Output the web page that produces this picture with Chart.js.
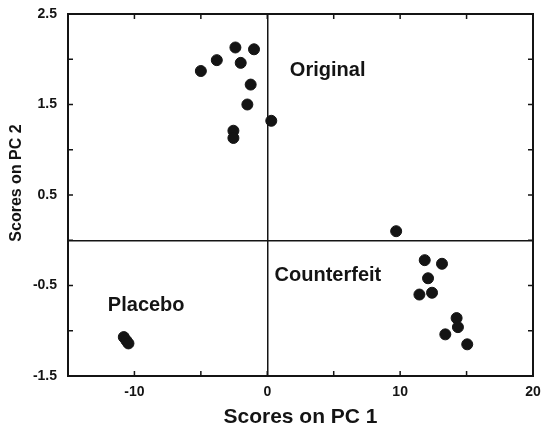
<!DOCTYPE html>
<html>
<head>
<meta charset="utf-8">
<script src="https://cdn.jsdelivr.net/npm/chart.js"></script>
<style>
    html, body { margin: 0; padding: 0; background: #fff; }
    #wrap { width: 545px; height: 431px; }
</style>
</head>
<body>
<div id="wrap"><canvas id="scores"></canvas></div>
<script>
// PCA scores
const originalX = [-5.0, -3.8, -2.4, -1.0, -2.0, -1.25, -1.5, -2.55, -2.55, 0.3];
const originalY = [1.87, 1.99, 2.13, 2.11, 1.96, 1.72, 1.50, 1.21, 1.13, 1.32];
const counterfeitX = [9.7, 11.85, 13.15, 12.1, 11.45, 12.4, 14.25, 14.35, 13.4, 15.05];
const counterfeitY = [0.10, -0.22, -0.26, -0.42, -0.60, -0.58, -0.86, -0.96, -1.04, -1.15];
const placeboX = [-10.8, -10.6, -10.45];
const placeboY = [-1.07, -1.11, -1.14];

const groupNames = ['Original', 'Counterfeit', 'Placebo'];
// where each group name sits (data units, left edge / middle)
const groupLabelX = [1.7, 0.55, -12.0];
const groupLabelY = [1.88, -0.39, -0.72];

const xTicks = [-10, 0, 10, 20];
const yTicks = [-1.5, -0.5, 0.5, 1.5, 2.5];

const ink = '#141414';
const fontFamily = '"Liberation Sans", Arial, sans-serif';

function toPoints(xs, ys) {
    return xs.map((x, i) => ({ x: x, y: ys[i] }));
}

// frame, inward tick marks and group names
const framePlugin = {
    id: 'frame',
    afterDraw(chart) {
        const { ctx, chartArea: a, scales } = chart;
        ctx.save();
        ctx.strokeStyle = ink;
        ctx.lineWidth = 2;
        ctx.strokeRect(a.left, a.top, a.right - a.left, a.bottom - a.top);

        ctx.lineWidth = 1.5;
        const len = 5;
        ctx.beginPath();
        scales.x.ticks.forEach(t => {
            const px = scales.x.getPixelForValue(t.value);
            ctx.moveTo(px, a.bottom); ctx.lineTo(px, a.bottom - len);
            ctx.moveTo(px, a.top); ctx.lineTo(px, a.top + len);
        });
        scales.y.ticks.forEach(t => {
            const py = scales.y.getPixelForValue(t.value);
            ctx.moveTo(a.left, py); ctx.lineTo(a.left + len, py);
            ctx.moveTo(a.right, py); ctx.lineTo(a.right - len, py);
        });
        ctx.stroke();

        ctx.fillStyle = ink;
        ctx.font = 'bold 20px ' + fontFamily;
        ctx.textAlign = 'left';
        ctx.textBaseline = 'middle';
        groupNames.forEach((name, i) => {
            ctx.fillText(name,
                scales.x.getPixelForValue(groupLabelX[i]),
                scales.y.getPixelForValue(groupLabelY[i]));
        });

        // y axis title
        ctx.font = 'bold 16px ' + fontFamily;
        ctx.textAlign = 'center';
        ctx.translate(17, 183);
        ctx.rotate(-Math.PI / 2);
        ctx.fillText('Scores on PC 2', 0, 0);
        ctx.restore();
    }
};

const pointStyle = {
    backgroundColor: ink,
    borderColor: ink,
    pointRadius: 5.5,
    pointHoverRadius: 5.5
};

new Chart(document.getElementById('scores'), {
    type: 'scatter',
    data: {
        datasets: [
            Object.assign({ label: groupNames[0], data: toPoints(originalX, originalY) }, pointStyle),
            Object.assign({ label: groupNames[1], data: toPoints(counterfeitX, counterfeitY) }, pointStyle),
            Object.assign({ label: groupNames[2], data: toPoints(placeboX, placeboY) }, pointStyle)
        ]
    },
    options: {
        responsive: true,
        maintainAspectRatio: false,
        animation: false,
        layout: { padding: { top: 14, right: 12, left: 0, bottom: 0 } },
        plugins: {
            legend: { display: false },
            tooltip: { enabled: false }
        },
        scales: {
            x: {
                type: 'linear',
                min: -15,
                max: 20,
                border: { display: false },
                grid: {
                    drawTicks: false,
                    lineWidth: 1.5,
                    color: c => (c.tick && c.tick.value === 0) ? ink : 'transparent'
                },
                ticks: {
                    stepSize: 5,
                    padding: 8,
                    color: ink,
                    maxRotation: 0,
                    font: { family: fontFamily, size: 14, weight: 'bold' },
                    callback: v => xTicks.includes(v) ? String(v) : ''
                },
                title: {
                    display: true,
                    text: 'Scores on PC 1',
                    color: ink,
                    padding: { top: 0, bottom: 1 },
                    font: { family: fontFamily, size: 21, weight: 'bold' }
                },
                afterFit: s => { s.height = 55; s.paddingLeft = 0; s.paddingRight = 0; }
            },
            y: {
                type: 'linear',
                min: -1.5,
                max: 2.5,
                border: { display: false },
                grid: {
                    drawTicks: false,
                    lineWidth: 1.5,
                    color: c => (c.tick && Math.abs(c.tick.value) < 1e-9) ? ink : 'transparent'
                },
                ticks: {
                    stepSize: 0.5,
                    padding: 11,
                    color: ink,
                    font: { family: fontFamily, size: 14, weight: 'bold' },
                    callback: v => yTicks.some(t => Math.abs(t - v) < 1e-9) ? v.toFixed(1) : ''
                },
                afterFit: s => { s.width = 68; s.paddingTop = 0; s.paddingBottom = 0; }
            }
        }
    },
    plugins: [framePlugin]
});
</script>
</body>
</html>
